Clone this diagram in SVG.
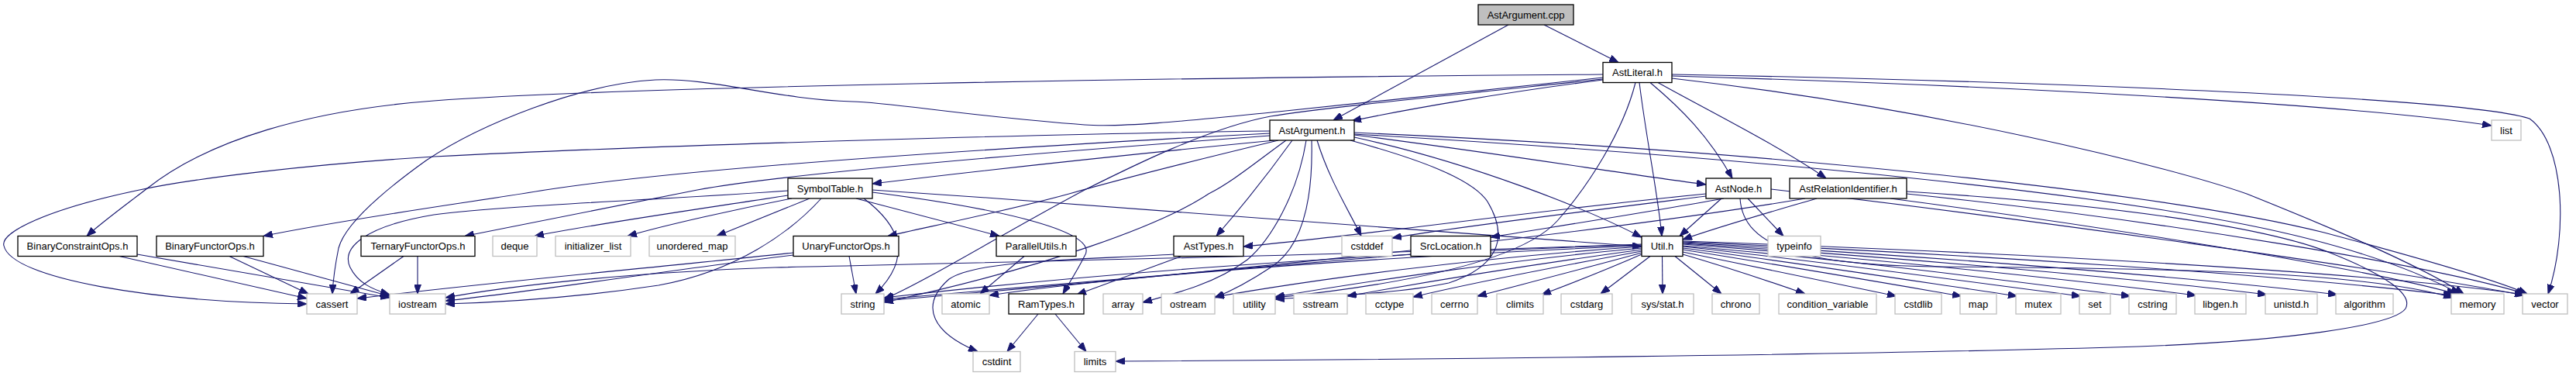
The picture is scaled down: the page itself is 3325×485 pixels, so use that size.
<svg xmlns="http://www.w3.org/2000/svg" width="3325" height="485" viewBox="0 0 3325 485">
<defs>
<style>
.n rect{fill:#ffffff;stroke:#000000;stroke-width:1.3}
.x rect{fill:#ffffff;stroke:#bfbfbf;stroke-width:1.3}
.r rect{fill:#bfbfbf;stroke:#000000;stroke-width:1.3}
text{font-family:"Liberation Sans",Arial,Helvetica,sans-serif;font-size:13px;text-anchor:middle;fill:#000}
#edges path{fill:none;stroke:#191970;stroke-width:1.1;marker-end:url(#a)}
</style>
<marker id="a" viewBox="0 0 12 9" refX="12" refY="4.5" markerWidth="12" markerHeight="9" markerUnits="userSpaceOnUse" orient="auto">
<path d="M0,0 L12,4.5 L0,9 z" fill="#191970" stroke="#191970" stroke-width="1"/>
</marker>
</defs>
<rect x="0" y="0" width="3325" height="485" fill="#ffffff"/>
<g id="edges">
<path d="M1947,32 L1721,155"/>
<path d="M1993,32 L2089,80.5"/>
<path d="M2069,103 C1950,118 1820,140 1745,156"/>
<path d="M2069,96 C1500,100 800,112 560,130 C400,142 270,180 190,243 C160,266 130,288 112,304.5"/>
<path d="M2069,100 C1900,118 1700,140 1650,144 C1550,154 1450,165 1400,161 C1250,150 1150,132 1100,131 C1000,128 920,100 846,103 C750,108 620,160 550,207 C490,250 445,290 437,320 C432,345 430,360 429,379"/>
<path d="M2069,102 C1850,125 1700,140 1640,150 C1560,165 1460,215 1400,245 C1300,298 1200,360 1141,386"/>
<path d="M2111,106.5 C2095,170 2050,240 2010,285 C1960,340 1800,368 1646,384"/>
<path d="M2116,106.5 C2125,180 2140,250 2145,304.5"/>
<path d="M2130,106.5 C2170,140 2205,175 2236,230"/>
<path d="M2140,106.5 C2200,140 2300,190 2357,230"/>
<path d="M2158,98 C2500,108 3000,130 3216,162"/>
<path d="M2158,96 C2600,104 3180,125 3265,153 C3310,185 3315,300 3289,379"/>
<path d="M2158,101 C2500,140 2800,215 2900,250 C3000,290 3120,340 3180,379"/>
<path d="M1639,169 C1400,172 900,185 560,202 C400,212 250,230 180,245 C60,270 0,300 5,317 C15,360 200,390 396,392"/>
<path d="M1639,172 C1300,190 900,215 704,245 C600,262 450,282 340,304.5"/>
<path d="M1639,175 C1300,200 1000,226 900,245 C780,268 680,288 600,304.5"/>
<path d="M1645,181 C1450,200 1250,222 1126,237"/>
<path d="M1650,181 C1550,205 1450,230 1380,250 C1300,272 1200,292 1146,304.5"/>
<path d="M1660,181 C1620,210 1590,235 1560,250 C1500,290 1350,345 1141,390"/>
<path d="M1668,181 C1640,220 1600,270 1570,304.5"/>
<path d="M1686,181 C1675,250 1640,310 1610,335 C1570,365 1520,378 1475,390"/>
<path d="M1693,181 C1695,260 1680,320 1640,345 C1610,365 1590,375 1568,384"/>
<path d="M1700,181 C1715,230 1740,270 1757,304.5"/>
<path d="M1743,181 C1830,205 1900,230 1920,260 C1950,310 1930,345 1870,365 C1800,380 1700,382 1646,386"/>
<path d="M1748,177 C1900,210 2050,270 2119,306"/>
<path d="M1748,174 C1950,200 2100,225 2202,238"/>
<path d="M1748,171 C2300,195 2800,250 3000,300 C3150,340 3230,365 3262,379"/>
<path d="M1748,173 C2300,205 2700,250 2900,290 C3050,320 3130,355 3175,379"/>
<path d="M1126,245 C1500,270 1900,300 2119,318"/>
<path d="M1105,256 L1290,304.5"/>
<path d="M1115,256 C1160,290 1180,330 1130,379"/>
<path d="M1126,248 C1300,270 1420,300 1400,330 C1390,350 1380,365 1372,379"/>
<path d="M1017,252 C900,270 760,290 690,304.5"/>
<path d="M1022,256 C950,270 860,290 810,304.5"/>
<path d="M1045,256 L925,304.5"/>
<path d="M1060,256 C1020,300 950,350 850,368 C750,383 650,390 575,392"/>
<path d="M1017,246 C850,258 650,265 560,277 C470,292 440,320 452,345 C462,365 480,373 503,380"/>
<path d="M1096,330.5 L1105,379"/>
<path d="M1024,326 C850,345 650,362 461,385"/>
<path d="M1024,329 C850,350 700,375 575,388"/>
<path d="M296,330.5 L398,379"/>
<path d="M314,330.5 L503,382"/>
<path d="M154,330.5 L396,385"/>
<path d="M177,328 L503,384"/>
<path d="M521,330.5 L452,379"/>
<path d="M539,330.5 L539,379"/>
<path d="M1322,330.5 L1265,379"/>
<path d="M1525,330.5 L1390,380"/>
<path d="M1515,328 C1400,335 1260,335 1225,360 C1185,395 1205,430 1262,453.5"/>
<path d="M1340,405 L1300,453.5"/>
<path d="M1362,405 L1402,453.5"/>
<path d="M1821,328 C1600,345 1350,370 1141,386"/>
<path d="M2145.5,330.5 L2146,379"/>
<path d="M2130,330.5 L2066,379"/>
<path d="M2119,328 C2080,345 2030,365 1990,380"/>
<path d="M2119,326 C2050,345 1960,368 1907,382"/>
<path d="M2119,324 C2020,342 1900,365 1824,383"/>
<path d="M2119,322 C2000,338 1850,362 1739,382"/>
<path d="M2119,320 C1950,335 1750,365 1646,383"/>
<path d="M2119,318 C1900,333 1700,360 1568,383"/>
<path d="M2119,317 C1800,330 1450,355 1277,381"/>
<path d="M2119,316 C1700,328 1350,360 1141,384"/>
<path d="M2119,315 C1700,330 1300,338 1000,345 C800,352 650,370 575,384"/>
<path d="M2162,330.5 L2222,379"/>
<path d="M2172,328 C2230,345 2290,365 2330,379"/>
<path d="M2172,325 C2270,345 2380,368 2448,382"/>
<path d="M2172,322 C2300,342 2450,368 2532,382"/>
<path d="M2172,320 C2330,340 2500,367 2604,382"/>
<path d="M2172,318 C2360,338 2560,366 2686,382"/>
<path d="M2172,317 C2400,336 2620,366 2750,382"/>
<path d="M2172,315 C2430,334 2700,364 2835,381"/>
<path d="M2172,314 C2460,332 2780,362 2926,380"/>
<path d="M2172,313 C2500,330 2850,360 3017,380"/>
<path d="M2172,312 C2550,328 2950,355 3166,381"/>
<path d="M2172,311 C2600,326 3050,350 3258,380"/>
<path d="M2202,250 C1950,275 1750,305 1605,318"/>
<path d="M2225,256 C2120,275 1990,295 1924,306"/>
<path d="M2222,256 L2168,304.5"/>
<path d="M2256,256 L2302,304.5"/>
<path d="M2202,253 C2050,272 1870,294 1797,307"/>
<path d="M2246,256 C2250,320 2330,342 2500,344 C2800,346 3050,350 3166,384"/>
<path d="M2286,244 C2600,280 3100,350 3258,381"/>
<path d="M2345,256 C2280,275 2220,292 2172,309"/>
<path d="M2461,247 C2700,262 2920,290 3010,327 C3080,355 3115,380 3105,398 C3090,420 2950,440 2760,447 C2400,458 1800,464 1440,466"/>
<path d="M2461,250 C2800,285 3150,345 3260,379"/>
<path d="M2440,256 C2700,290 3050,345 3170,379"/>
<path d="M2330,256 C2100,295 1700,340 1141,388"/>
</g>
<g id="n_AstArgument_cpp" class="r"><rect x="1908" y="6" width="123" height="26"/><text x="1969.5" y="23.5">AstArgument.cpp</text></g>
<g id="n_AstLiteral_h" class="n"><rect x="2069" y="80.5" width="89" height="26"/><text x="2113.5" y="98">AstLiteral.h</text></g>
<g id="n_AstArgument_h" class="n"><rect x="1639" y="155" width="109" height="26"/><text x="1693.5" y="172.5">AstArgument.h</text></g>
<g id="n_list" class="x"><rect x="3216" y="155" width="38" height="26"/><text x="3235" y="172.5">list</text></g>
<g id="n_SymbolTable_h" class="n"><rect x="1017" y="230" width="109" height="26"/><text x="1071.5" y="247.5">SymbolTable.h</text></g>
<g id="n_AstNode_h" class="n"><rect x="2202" y="230" width="84" height="26"/><text x="2244" y="247.5">AstNode.h</text></g>
<g id="n_AstRelationIdentifier_h" class="n"><rect x="2310" y="230" width="151" height="26"/><text x="2385.5" y="247.5">AstRelationIdentifier.h</text></g>
<g id="n_BinaryConstraintOps_h" class="n"><rect x="23" y="304.5" width="154" height="26"/><text x="100" y="322">BinaryConstraintOps.h</text></g>
<g id="n_BinaryFunctorOps_h" class="n"><rect x="202" y="304.5" width="138" height="26"/><text x="271" y="322">BinaryFunctorOps.h</text></g>
<g id="n_TernaryFunctorOps_h" class="n"><rect x="466" y="304.5" width="147" height="26"/><text x="539.5" y="322">TernaryFunctorOps.h</text></g>
<g id="n_deque" class="x"><rect x="636" y="304.5" width="57" height="26"/><text x="664.5" y="322">deque</text></g>
<g id="n_initializer_list" class="x"><rect x="717" y="304.5" width="97" height="26"/><text x="765.5" y="322">initializer_list</text></g>
<g id="n_unordered_map" class="x"><rect x="838" y="304.5" width="111" height="26"/><text x="893.5" y="322">unordered_map</text></g>
<g id="n_UnaryFunctorOps_h" class="n"><rect x="1024" y="304.5" width="136" height="26"/><text x="1092" y="322">UnaryFunctorOps.h</text></g>
<g id="n_ParallelUtils_h" class="n"><rect x="1286" y="304.5" width="103" height="26"/><text x="1337.5" y="322">ParallelUtils.h</text></g>
<g id="n_AstTypes_h" class="n"><rect x="1515" y="304.5" width="90" height="26"/><text x="1560" y="322">AstTypes.h</text></g>
<g id="n_cstddef" class="x"><rect x="1732" y="304.5" width="65" height="26"/><text x="1764.5" y="322">cstddef</text></g>
<g id="n_SrcLocation_h" class="n"><rect x="1821" y="304.5" width="103" height="26"/><text x="1872.5" y="322">SrcLocation.h</text></g>
<g id="n_Util_h" class="n"><rect x="2119" y="304.5" width="53" height="26"/><text x="2145.5" y="322">Util.h</text></g>
<g id="n_typeinfo" class="x"><rect x="2282" y="304.5" width="68" height="26"/><text x="2316" y="322">typeinfo</text></g>
<g id="n_cassert" class="x"><rect x="396" y="379" width="65" height="26"/><text x="428.5" y="396.5">cassert</text></g>
<g id="n_iostream" class="x"><rect x="503" y="379" width="72" height="26"/><text x="539" y="396.5">iostream</text></g>
<g id="n_string" class="x"><rect x="1086" y="379" width="55" height="26"/><text x="1113.5" y="396.5">string</text></g>
<g id="n_atomic" class="x"><rect x="1216" y="379" width="61" height="26"/><text x="1246.5" y="396.5">atomic</text></g>
<g id="n_RamTypes_h" class="n"><rect x="1302" y="379" width="97" height="26"/><text x="1350.5" y="396.5">RamTypes.h</text></g>
<g id="n_array" class="x"><rect x="1424" y="379" width="51" height="26"/><text x="1449.5" y="396.5">array</text></g>
<g id="n_ostream" class="x"><rect x="1499" y="379" width="69" height="26"/><text x="1533.5" y="396.5">ostream</text></g>
<g id="n_utility" class="x"><rect x="1592" y="379" width="54" height="26"/><text x="1619" y="396.5">utility</text></g>
<g id="n_sstream" class="x"><rect x="1670" y="379" width="69" height="26"/><text x="1704.5" y="396.5">sstream</text></g>
<g id="n_cctype" class="x"><rect x="1763" y="379" width="61" height="26"/><text x="1793.5" y="396.5">cctype</text></g>
<g id="n_cerrno" class="x"><rect x="1848" y="379" width="59" height="26"/><text x="1877.5" y="396.5">cerrno</text></g>
<g id="n_climits" class="x"><rect x="1932" y="379" width="60" height="26"/><text x="1962" y="396.5">climits</text></g>
<g id="n_cstdarg" class="x"><rect x="2015" y="379" width="66" height="26"/><text x="2048" y="396.5">cstdarg</text></g>
<g id="n_sys_stat_h" class="x"><rect x="2106" y="379" width="80" height="26"/><text x="2146" y="396.5">sys/stat.h</text></g>
<g id="n_chrono" class="x"><rect x="2210" y="379" width="61" height="26"/><text x="2240.5" y="396.5">chrono</text></g>
<g id="n_condition_variable" class="x"><rect x="2296" y="379" width="126" height="26"/><text x="2359" y="396.5">condition_variable</text></g>
<g id="n_cstdlib" class="x"><rect x="2446" y="379" width="60" height="26"/><text x="2476" y="396.5">cstdlib</text></g>
<g id="n_map" class="x"><rect x="2530" y="379" width="47" height="26"/><text x="2553.5" y="396.5">map</text></g>
<g id="n_mutex" class="x"><rect x="2602" y="379" width="58" height="26"/><text x="2631" y="396.5">mutex</text></g>
<g id="n_set" class="x"><rect x="2684" y="379" width="40" height="26"/><text x="2704" y="396.5">set</text></g>
<g id="n_cstring" class="x"><rect x="2748" y="379" width="61" height="26"/><text x="2778.5" y="396.5">cstring</text></g>
<g id="n_libgen_h" class="x"><rect x="2833" y="379" width="66" height="26"/><text x="2866" y="396.5">libgen.h</text></g>
<g id="n_unistd_h" class="x"><rect x="2924" y="379" width="67" height="26"/><text x="2957.5" y="396.5">unistd.h</text></g>
<g id="n_algorithm" class="x"><rect x="3015" y="379" width="74" height="26"/><text x="3052" y="396.5">algorithm</text></g>
<g id="n_memory" class="x"><rect x="3164" y="379" width="68" height="26"/><text x="3198" y="396.5">memory</text></g>
<g id="n_vector" class="x"><rect x="3256" y="379" width="58" height="26"/><text x="3285" y="396.5">vector</text></g>
<g id="n_cstdint" class="x"><rect x="1256" y="453.5" width="61" height="26"/><text x="1286.5" y="471">cstdint</text></g>
<g id="n_limits" class="x"><rect x="1387" y="453.5" width="53" height="26"/><text x="1413.5" y="471">limits</text></g>
</svg>
